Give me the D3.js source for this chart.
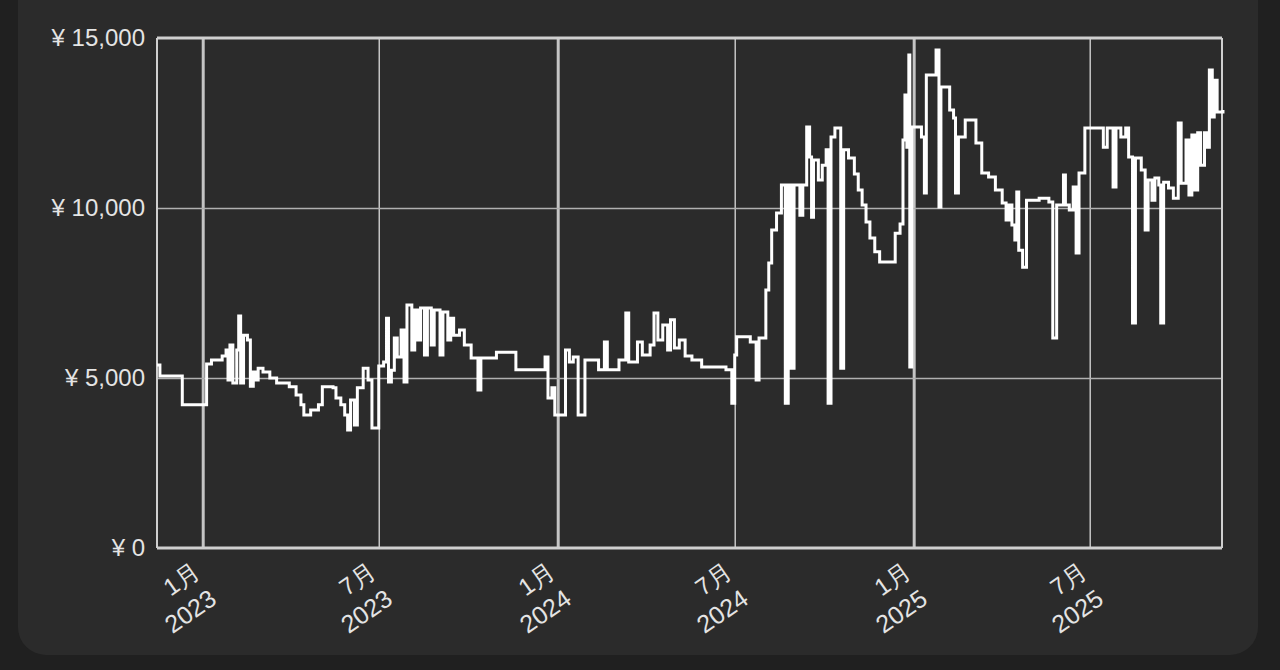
<!DOCTYPE html>
<html>
<head>
<meta charset="utf-8">
<script src="https://cdn.jsdelivr.net/npm/d3@7"></script>
<style>
  html, body { margin: 0; padding: 0; background: #202020; }
  svg { display: block; font-family: Roboto, "Noto Sans CJK JP", sans-serif; }
</style>
</head>
<body>
<script>
// price history, step line (date the price changed -> new price in yen)
const dates = [
  "2022-11-15","2022-11-18","2022-12-11","2023-01-05","2023-01-10","2023-01-21","2023-01-25","2023-01-27",
  "2023-01-29","2023-02-01","2023-02-05","2023-02-07","2023-02-09","2023-02-12","2023-02-16","2023-02-19",
  "2023-02-22","2023-02-25","2023-02-27","2023-03-04","2023-03-11","2023-03-18","2023-03-31","2023-04-07",
  "2023-04-12","2023-04-15","2023-04-22","2023-04-30","2023-05-04","2023-05-15","2023-05-18","2023-05-23",
  "2023-05-27","2023-05-30","2023-06-02","2023-06-06","2023-06-09","2023-06-15","2023-06-20","2023-06-24",
  "2023-07-01","2023-07-06","2023-07-09","2023-07-11","2023-07-14","2023-07-17","2023-07-20","2023-07-24",
  "2023-07-27","2023-07-30","2023-08-04","2023-08-07","2023-08-10","2023-08-13","2023-08-17","2023-08-20",
  "2023-08-24","2023-08-27","2023-09-02","2023-09-05","2023-09-10","2023-09-13","2023-09-16","2023-09-22",
  "2023-09-27","2023-10-04","2023-10-11","2023-10-14","2023-10-30","2023-11-19","2023-12-19","2023-12-22",
  "2023-12-26","2023-12-29","2024-01-09","2024-01-13","2024-01-17","2024-01-22","2024-01-29","2024-02-12",
  "2024-02-18","2024-02-21","2024-03-04","2024-03-11","2024-03-14","2024-03-23","2024-03-28","2024-04-05",
  "2024-04-09","2024-04-13","2024-04-18","2024-04-23","2024-04-26","2024-04-30","2024-05-05","2024-05-11",
  "2024-05-18","2024-05-28","2024-06-22","2024-06-28","2024-07-01","2024-07-03","2024-07-17","2024-07-23",
  "2024-07-26","2024-08-02","2024-08-05","2024-08-08","2024-08-13","2024-08-18","2024-08-22","2024-08-25",
  "2024-08-28","2024-08-31","2024-09-06","2024-09-09","2024-09-13","2024-09-16","2024-09-18","2024-09-20",
  "2024-09-25","2024-09-29","2024-10-03","2024-10-05","2024-10-08","2024-10-12","2024-10-18","2024-10-21",
  "2024-10-26","2024-11-01","2024-11-05","2024-11-09","2024-11-13","2024-11-17","2024-11-22","2024-11-27",
  "2024-12-13","2024-12-18","2024-12-21","2024-12-23","2024-12-25","2024-12-27","2024-12-28","2024-12-30",
  "2025-01-09","2025-01-12","2025-01-14","2025-01-24","2025-01-27","2025-01-29","2025-02-07","2025-02-11",
  "2025-02-13","2025-02-16","2025-02-23","2025-03-06","2025-03-12","2025-03-19","2025-03-26","2025-04-02",
  "2025-04-06","2025-04-09","2025-04-12","2025-04-15","2025-04-17","2025-04-19","2025-04-23","2025-04-27",
  "2025-05-10","2025-05-20","2025-05-24","2025-05-28","2025-06-04","2025-06-06","2025-06-10","2025-06-14",
  "2025-06-17","2025-06-20","2025-06-26","2025-07-15","2025-07-19","2025-07-25","2025-07-28","2025-08-02",
  "2025-08-07","2025-08-10","2025-08-14","2025-08-17","2025-08-23","2025-08-27","2025-08-30","2025-09-03",
  "2025-09-06","2025-09-10","2025-09-12","2025-09-15","2025-09-20","2025-09-25","2025-09-30","2025-10-03",
  "2025-10-08","2025-10-11","2025-10-14","2025-10-17","2025-10-20","2025-10-23","2025-10-27","2025-10-30",
  "2025-11-01","2025-11-04","2025-11-06","2025-11-09","2025-11-15"
];
const prices = [
  5380,5060,4210,5410,5530,5650,5820,4940,
  5970,4850,5820,6820,4850,6260,6120,4760,
  5180,4940,5290,5180,5000,4850,4740,4500,
  4210,3910,4060,4210,4740,4710,4410,4210,
  3910,3470,4350,3620,4710,5290,4940,3530,
  5350,5470,6760,4880,5230,6180,5620,6410,
  4880,7150,5820,7000,6120,7060,5680,7060,
  5970,7000,5680,6940,6120,6760,6260,6410,
  5970,5590,4650,5590,5760,5240,5620,4410,
  4710,3910,5820,5470,5620,3910,5530,5240,
  6060,5240,5530,6910,5470,6060,5680,5970,
  6910,6120,6560,5820,6710,5880,6120,5650,
  5530,5320,5240,4260,5680,6210,6060,4940,
  6180,7590,8380,9350,9850,10680,4260,10680,
  5290,10680,9790,10680,12380,11500,9730,11410,
  10820,11260,11710,4260,12090,12350,5290,11710,
  11470,11000,10530,10090,9590,9120,8710,8410,
  9260,9530,12000,13320,11790,14500,5320,12380,
  12090,10440,13910,14650,10030,13560,12880,12650,
  10440,12090,12590,11910,11030,10910,10530,10150,
  9650,10090,9500,9060,10470,8760,8260,10230,
  10290,10180,6180,10090,10970,10090,9940,10620,
  8680,11030,12350,11790,12350,10620,12350,12090,
  12350,11500,6620,11470,11120,9350,10820,10230,
  10880,10680,6620,10760,10590,10290,12500,10730,
  12000,10380,12150,10530,12210,11260,12210,11790,
  14060,12680,13760,12820,12880
];

const yTicks = [0, 5000, 10000, 15000];
const xTicks = ["2023-01-01","2023-07-01","2024-01-01","2024-07-01","2025-01-01","2025-07-01"];
const monthLabels = ["1月","7月","1月","7月","1月","7月"];
const yearLabels = ["2023","2023","2024","2024","2025","2025"];

const W = 1280, H = 670;
const plotL = 157, plotR = 1222, plotT = 38, plotB = 548;
const parse = d3.utcParse("%Y-%m-%d");

const svg = d3.select("body").append("svg")
  .attr("width", W)
  .attr("height", H);

// card behind the chart
svg.append("rect")
  .attr("x", 18).attr("y", -40)
  .attr("width", 1240).attr("height", 695)
  .attr("rx", 28)
  .attr("fill", "#2b2b2b");

const x = d3.scaleUtc()
  .domain([parse("2022-11-15"), parse("2025-11-14")])
  .range([plotL, plotR]);
const y = d3.scaleLinear()
  .domain([0, 15000])
  .range([plotB, plotT]);

// vertical grid (January lines drawn heavier)
const gridX = svg.append("g")
  .attr("transform", `translate(0,${plotB})`)
  .call(d3.axisBottom(x).tickValues(xTicks.map(parse)).tickSize(-(plotB - plotT)).tickFormat(""));
gridX.select(".domain").remove();
gridX.selectAll(".tick line")
  .attr("stroke", "#c4c4c4")
  .attr("stroke-width", d => d.getUTCMonth() === 0 ? 3 : 1.5);

// horizontal grid
const gridY = svg.append("g")
  .attr("transform", `translate(${plotL},0)`)
  .call(d3.axisLeft(y).tickValues([5000, 10000]).tickSize(-(plotR - plotL)).tickFormat(""));
gridY.select(".domain").remove();
gridY.selectAll(".tick line")
  .attr("stroke", "#b0b0b0")
  .attr("stroke-width", 1.5);

// plot frame
svg.append("line").attr("x1", plotL).attr("x2", plotR).attr("y1", plotT).attr("y2", plotT)
  .attr("stroke", "#cfcfcf").attr("stroke-width", 3);
svg.append("line").attr("x1", plotL).attr("x2", plotR).attr("y1", plotB).attr("y2", plotB)
  .attr("stroke", "#cfcfcf").attr("stroke-width", 3);
svg.append("line").attr("x1", plotL).attr("x2", plotL).attr("y1", plotT).attr("y2", plotB)
  .attr("stroke", "#cfcfcf").attr("stroke-width", 2);
svg.append("line").attr("x1", plotR).attr("x2", plotR).attr("y1", plotT).attr("y2", plotB)
  .attr("stroke", "#cfcfcf").attr("stroke-width", 2);

// y labels
const ay = svg.append("g")
  .attr("transform", `translate(${plotL},0)`)
  .call(d3.axisLeft(y).tickValues(yTicks).tickSize(0).tickPadding(12)
    .tickFormat(d => "¥ " + d3.format(",")(d)));
ay.select(".domain").remove();
ay.selectAll("text")
  .attr("fill", "#e4e4e4")
  .attr("font-size", 24);

// x labels: month and year, each rotated about its own centre
const ax = svg.append("g")
  .attr("transform", `translate(0,${plotB})`)
  .call(d3.axisBottom(x).tickValues(xTicks.map(parse)).tickSize(0).tickFormat(""));
ax.select(".domain").remove();
ax.selectAll(".tick text").remove();
ax.selectAll(".tick").append("text")
  .attr("transform", "translate(-22,31) rotate(-35)")
  .attr("text-anchor", "middle")
  .attr("dominant-baseline", "central")
  .attr("fill", "#e4e4e4")
  .attr("font-size", 24)
  .text((d, i) => monthLabels[i]);
ax.selectAll(".tick").append("text")
  .attr("transform", "translate(-13,63) rotate(-35)")
  .attr("text-anchor", "middle")
  .attr("dominant-baseline", "central")
  .attr("fill", "#e4e4e4")
  .attr("font-size", 25)
  .text((d, i) => yearLabels[i]);

// the price line
const data = dates.map((d, i) => ({date: parse(d), price: prices[i]}));
const line = d3.line()
  .x(d => x(d.date))
  .y(d => y(d.price))
  .curve(d3.curveStepAfter);

svg.append("path")
  .datum(data)
  .attr("d", line)
  .attr("fill", "none")
  .attr("stroke", "#ffffff")
  .attr("stroke-width", 3)
  .attr("stroke-linejoin", "miter");
</script>
</body>
</html>
